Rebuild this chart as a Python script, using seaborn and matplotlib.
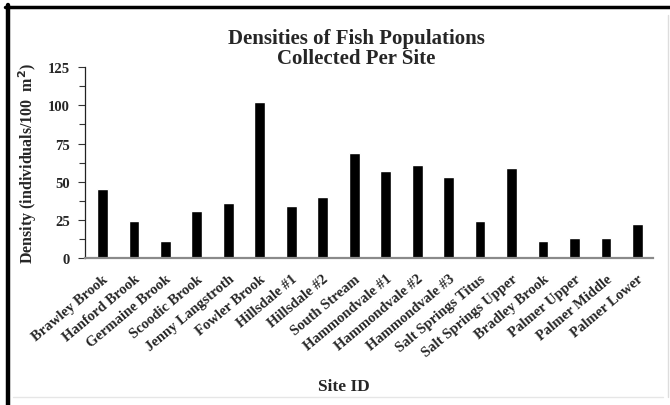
import matplotlib
matplotlib.use("Agg")
import matplotlib.pyplot as plt
import seaborn as sns
import pandas as pd
from matplotlib.ticker import MultipleLocator
from matplotlib.lines import Line2D

# data
sites = [
    "Brawley Brook", "Hanford Brook", "Germaine Brook", "Scoodic Brook",
    "Jenny Langstroth", "Fowler Brook", "Hillsdale #1", "Hillsdale #2",
    "South Stream", "Hammondvale #1", "Hammondvale #2", "Hammondvale #3",
    "Salt Springs Titus", "Salt Springs Upper", "Bradley Brook",
    "Palmer Upper", "Palmer Middle", "Palmer Lower",
]
density = [45, 24, 11, 31, 36, 102, 34, 40, 69, 57, 61, 53, 24, 59, 11, 13, 13, 22]

df = pd.DataFrame({"site": sites, "density": density})

sns.set_theme(style="white")
plt.rcParams["font.family"] = ["Liberation Serif", "DejaVu Serif"]
plt.rcParams["font.weight"] = "bold"

fig = plt.figure(figsize=(6.7, 4.06), dpi=100)
ax = fig.add_axes([0.127, 0.362, 0.848, 0.47])

sns.barplot(data=df, x="site", y="density", color="black", width=0.34,
            saturation=1, ax=ax)

ax.set_xlim(-0.55, 17.5)
ax.set_ylim(0, 125)
ax.yaxis.set_major_locator(MultipleLocator(25))
ax.yaxis.set_minor_locator(MultipleLocator(12.5))
ax.tick_params(axis="y", which="major", direction="out", length=5, width=0.8,
               left=True, labelsize=10.5, pad=6, color="#333333")
ax.tick_params(axis="y", which="minor", direction="out", length=4, width=0.8,
               left=True, color="#333333")
ax.tick_params(axis="x", length=0, pad=10)
for lab in ax.get_yticklabels():
    lab.set_fontweight("bold")

ax.set_xticks(range(len(sites)))
ax.set_xticklabels(sites, rotation=40, ha="right", rotation_mode="anchor",
                   fontsize=10.5, fontweight="bold")

for side in ["top", "right"]:
    ax.spines[side].set_visible(False)
ax.spines["left"].set_color("#222222")
ax.spines["left"].set_linewidth(0.9)
ax.spines["bottom"].set_color("#8a8a8a")
ax.spines["bottom"].set_linewidth(1.6)

ax.set_xlabel("Site ID", fontsize=12.5, fontweight="bold", labelpad=0)
ax.xaxis.set_label_coords(0.456, -0.63)
ax.set_ylabel("Density (individuals/100  m$^\\mathbf{2}$)", fontsize=11.5,
              fontweight="bold", labelpad=6)

fig.text(0.532, 0.928, "Densities of Fish Populations\nCollected Per Site",
         ha="center", va="top", fontsize=15, fontweight="bold",
         linespacing=1.0)

# frame around the picture
fig.add_artist(Line2D([0.012, 0.012], [0, 0.985], transform=fig.transFigure,
                      color="black", lw=3.2))
fig.add_artist(Line2D([0.008, 1.0], [0.981, 0.981], transform=fig.transFigure,
                      color="black", lw=2.5))
fig.add_artist(Line2D([0.997, 0.997], [0.02, 0.96], transform=fig.transFigure,
                      color="#dddddd", lw=1))
fig.add_artist(Line2D([0.02, 0.99], [0.02, 0.02], transform=fig.transFigure,
                      color="#e6e6e6", lw=1))

fig.savefig("out.png", dpi=100)
